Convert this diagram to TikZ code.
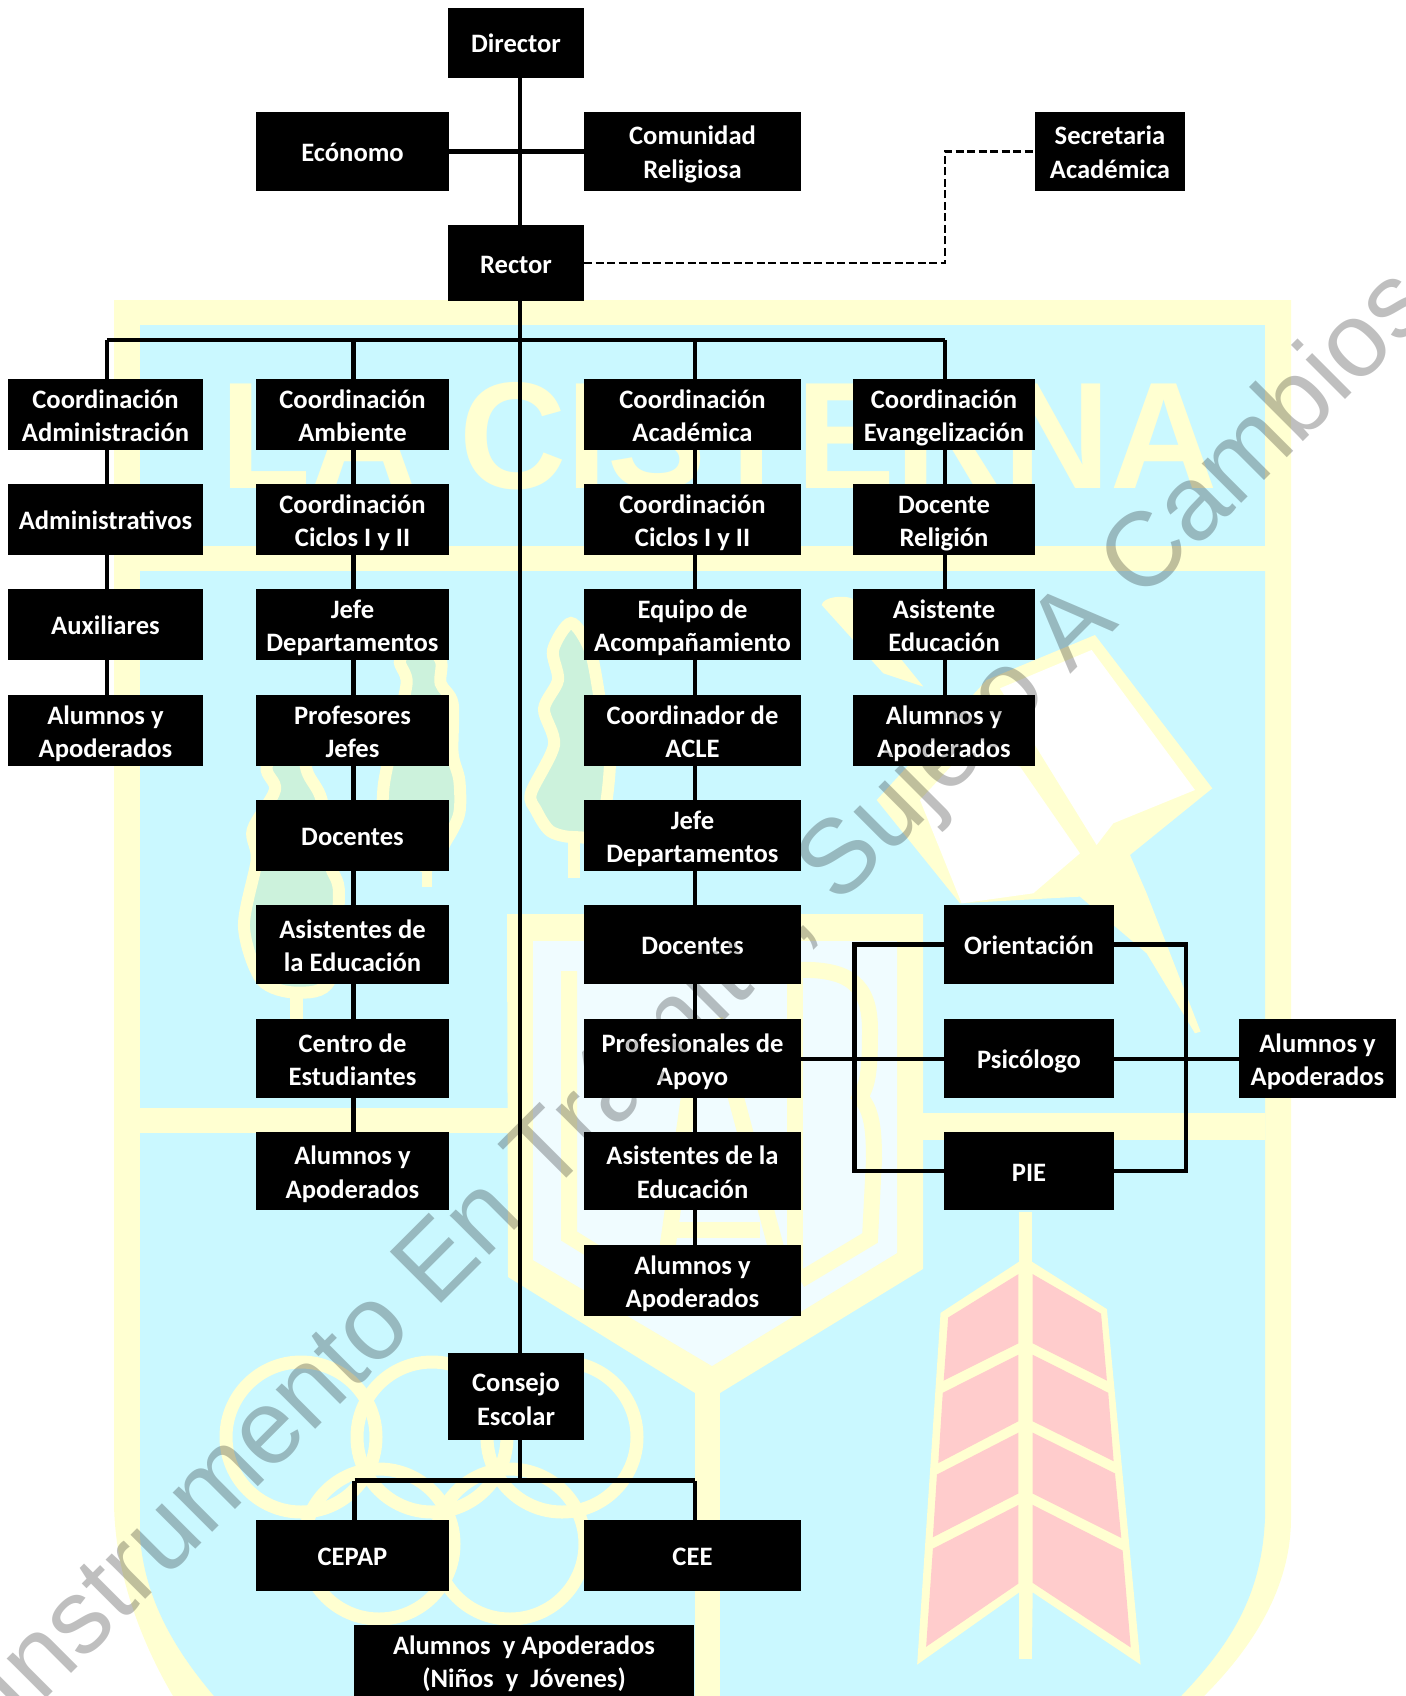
\documentclass[tikz,border=0pt]{standalone}
\usepackage{fontspec}
\setmainfont{Carlito}
\newfontfamily\wmfont{Liberation Sans}
\usetikzlibrary{calc}
\definecolor{shieldY}{HTML}{FFFFD1}
\definecolor{shieldC}{HTML}{CAF8FF}
\definecolor{shieldP}{HTML}{F0FCFF}
\definecolor{featherP}{HTML}{FFCCCC}
\definecolor{treeG}{HTML}{CCF2DC}
\newcommand{\topstrut}{\rule{0pt}{27pt}}
\newcommand{\botstrut}{\rule[-7pt]{0pt}{7pt}}
\newcommand{\dbl}{\rule{0pt}{27.5pt}}
\newcommand{\dblx}{\rule{0pt}{30.5pt}}
\tikzset{
  orgbox/.style={fill=black,text=white,inner sep=0pt,outer sep=0pt,align=center,
    font=\fontsize{26.6}{33.5}\selectfont\bfseries,
    execute at begin node=\topstrut,execute at end node=\botstrut},
  colA/.style={orgbox,minimum width=195pt},
  colB/.style={orgbox,minimum width=193pt},
  colC/.style={orgbox,minimum width=217pt},
  colD/.style={orgbox,minimum width=182pt},
  colM/.style={orgbox,minimum width=136pt},
  colO/.style={orgbox,minimum width=170pt},
  hA/.style={minimum height=71pt},
  hB/.style={minimum height=79pt},
  link/.style={draw=black,line width=4.6pt},
  thinlink/.style={draw=black,line width=4pt},
  dashlink/.style={draw=black,line width=2.6pt,dash pattern=on 8pt off 3.5pt},
  tree/.style={draw=shieldY,fill=treeG,line width=12pt},
  ring/.style={draw=shieldY,line width=13pt},
  feather/.style={fill=featherP},
  letterstroke/.style={draw=shieldY,line width=16pt}
}
\begin{document}
\begin{tikzpicture}[x=1pt,y=-1pt]
\useasboundingbox (0,0) rectangle (1405,1696);
% ---------- shield ----------
\fill[shieldY] (114,300) -- (1291,300) -- (1291,1518) .. controls (1291,1590) and (1250,1650) .. (1204,1696) -- (173,1696) .. controls (140,1640) and (114,1570) .. (114,1500) -- cycle;
\fill[shieldC] (140,325) rectangle (1265,546);
\fill[shieldC] (140,571) -- (1265,571) -- (1265,1518) .. controls (1262,1590) and (1235,1640) .. (1181,1696) -- (214,1696) .. controls (175,1650) and (145,1600) .. (140,1537) -- cycle;
\fill[shieldY] (140,1108) rectangle (510,1133);
\fill[shieldY] (920,1113) rectangle (1265,1140);
% letters
\node[inner sep=0pt,anchor=base west,xscale=0.976,transform shape,text=shieldY,font=\wmfont\fontsize{152}{152}\selectfont\bfseries] (lacisterna) at (220,488) {LA CISTERNA};
% trees
\draw[tree] plot[smooth cycle] coordinates {(571,623)(553,650)(558,680)(544,709)(554,745)(531,793)(536,810)(550,831)(573,837)(600,830)(610,760)(600,700)(590,650)};
\fill[shieldY] (568,840) rectangle (580,878);
\begin{scope}[shift={(100,640)},xscale=0.3333,yscale=0.3333]
  \draw[tree] plot[smooth cycle] coordinates {(900,60)(920,130)(880,300)(850,450)(860,600)(980,680)(1040,600)(1078,520)(1078,420)(1058,340)(1058,190)(1022,130)(1022,60)(960,0)};
  \fill[shieldY] (965,670) rectangle (995,740);
  \draw[tree] plot[smooth cycle] coordinates {(560,250)(500,380)(525,450)(458,570)(470,660)(432,860)(485,1020)(590,1058)(690,1020)(717,760)(690,670)(665,480)(620,390)(600,250)};
  \fill[shieldY] (570,1050) rectangle (610,1137);
\end{scope}
% book
\begin{scope}[shift={(780,560)},xscale=0.3333,yscale=0.3333]
  \fill[shieldY] (125,135) .. controls (130,110) and (190,105) .. (215,115) -- (430,380) -- (310,340) -- cycle;
  \fill[shieldY] (290,720) -- (620,360) -- (945,225) -- (1297,685) -- (1050,885) -- (1100,1000) -- (1262,1415) -- (1245,1420) -- (1100,1180) -- (900,1010) -- (540,1030) -- cycle;
  \fill[white] (660,385) -- (935,270) -- (1245,690) -- (1000,790) -- (950,855) -- cycle;
  \fill[white] (420,720) -- (540,590) -- (720,620) -- (900,880) -- (760,1000) -- (545,1030) -- cycle;
\end{scope}
% stem and inner shield
\fill[shieldY] (695,1380) rectangle (720,1696);
\fill[shieldY] (507,914) -- (923,914) -- (923,1269) -- (720,1393) -- (695,1393) -- (508,1277) -- cycle;
\fill[shieldP] (533,941) -- (897,941) -- (897,1253) -- (712,1366) -- (533,1260) -- cycle;
\draw[letterstroke] (569,971) -- (569,1236) -- (640,1280);
\draw[letterstroke] (700,1019) -- (660,1300);
\draw[letterstroke] (715,1019) -- (790,1300);
\draw[letterstroke] (663,1230) -- (760,1230);
\draw[letterstroke] (795,970) -- (795,1278);
\draw[letterstroke] (795,970) .. controls (850,968) and (870,985) .. (870,1030) .. controls (870,1070) and (868,1085) .. (860,1097) .. controls (872,1110) and (874,1130) .. (874,1160) -- (870,1238) -- (800,1280);
% rings
\draw[ring] (301,1437) circle (75);
\draw[ring] (432,1437) circle (75);
\draw[ring] (562,1437) circle (75);
\draw[ring] (379,1544) circle (75);
\draw[ring] (510,1544) circle (75);
% arrow
\begin{scope}[shift={(700,1100)},xscale=0.4496,yscale=0.3802]
  \fill[shieldY] (710,295) -- (738,295) -- (738,425) -- (905,550) -- (980,1485) -- (740,1295) -- (738,1470) -- (710,1470) -- (710,1295) -- (483,1485) -- (535,560) -- (710,425) -- cycle;
  \fill[feather] (708,458) -- (552,572) -- (542,738) -- (708,640) -- cycle;
  \fill[feather] (708,670) -- (540,770) -- (530,955) -- (708,845) -- cycle;
  \fill[feather] (708,875) -- (527,985) -- (518,1150) -- (708,1035) -- cycle;
  \fill[feather] (708,1065) -- (518,1180) -- (503,1438) -- (708,1272) -- cycle;
  \fill[feather] (740,458) -- (892,562) -- (905,738) -- (740,640) -- cycle;
  \fill[feather] (740,670) -- (908,770) -- (920,950) -- (740,845) -- cycle;
  \fill[feather] (740,875) -- (923,982) -- (937,1152) -- (740,1035) -- cycle;
  \fill[feather] (740,1065) -- (940,1185) -- (958,1440) -- (740,1270) -- cycle;
\end{scope}
% ---------- nodes ----------
\node[colM,minimum height=70pt] (director) at (516,43) {Director};
\node[colB,minimum height=79pt] (economo) at (352.5,151.5) {Ecónomo};
\node[colC,minimum height=79pt] (comunidad) at (692.5,151.5) {\dbl Comunidad\\Religiosa};
\node[orgbox,minimum width=150pt,minimum height=79pt] (secretaria) at (1110,151.5) {\dbl Secretaria\\Académica};
\node[colM,minimum height=76pt] (rector) at (516,263) {Rector};
% column A
\node[colA,hA] (a1) at (105.5,414.5) {\dbl Coordinación\\Administración};
\node[colA,hA] (a2) at (105.5,519.5) {Administrativos};
\node[colA,hA] (a3) at (105.5,624.5) {Auxiliares};
\node[colA,hA] (a4) at (105.5,730.5) {\dbl Alumnos y\\Apoderados};
% column B
\node[colB,hA] (b1) at (352.5,414.5) {\dbl Coordinación\\Ambiente};
\node[colB,hA] (b2) at (352.5,519.5) {\dbl Coordinación\\Ciclos I y II};
\node[colB,hA] (b3) at (352.5,624.5) {\dbl Jefe\\Departamentos};
\node[colB,hA] (b4) at (352.5,730.5) {\dbl Profesores\\Jefes};
\node[colB,hA] (b5) at (352.5,835.5) {Docentes};
\node[colB,hB] (b6) at (352.5,944.5) {\dbl Asistentes de\\la Educación};
\node[colB,hB] (b7) at (352.5,1058.5) {\dbl Centro de\\Estudiantes};
\node[colB,minimum height=78pt] (b8) at (352.5,1171) {\dbl Alumnos y\\Apoderados};
% column C
\node[colC,hA] (c1) at (692.5,414.5) {\dbl Coordinación\\Académica};
\node[colC,hA] (c2) at (692.5,519.5) {\dbl Coordinación\\Ciclos I y II};
\node[colC,hA] (c3) at (692.5,624.5) {\dbl Equipo de\\Acompañamiento};
\node[colC,hA] (c4) at (692.5,730.5) {\dbl Coordinador de\\ACLE};
\node[colC,hA] (c5) at (692.5,835.5) {\dbl Jefe\\Departamentos};
\node[colC,hB] (c6) at (692.5,944.5) {Docentes};
\node[colC,hB] (c7) at (692.5,1058.5) {\dbl Profesionales de\\Apoyo};
\node[colC,minimum height=78pt] (c8) at (692.5,1171) {\dbl Asistentes de la\\Educación};
\node[colC,hA] (c9) at (692.5,1280.5) {\dbl Alumnos y\\Apoderados};
% column D
\node[colD,hA] (d1) at (944,414.5) {\dbl Coordinación\\Evangelización};
\node[colD,hA] (d2) at (944,519.5) {\dbl Docente\\Religión};
\node[colD,hA] (d3) at (944,624.5) {\dbl Asistente\\Educación};
\node[colD,hA] (d4) at (944,730.5) {\dbl Alumnos y\\Apoderados};
% support group
\node[colO,hB] (orienta) at (1029,944.5) {Orientación};
\node[colO,hB] (psico) at (1029,1058.5) {Psicólogo};
\node[colO,minimum height=78pt] (pie) at (1029,1171) {PIE};
\node[orgbox,minimum width=157pt,hB] (apoderadosR) at (1317.5,1058.5) {\dbl Alumnos y\\Apoderados};
% bottom
\node[colM,minimum height=87pt] (consejo) at (516,1396.5) {\dblx Consejo\\Escolar};
\node[colB,hA] (cepap) at (352.5,1555) {CEPAP};
\node[colC,hA] (cee) at (692.5,1555) {CEE};
\node[orgbox,minimum width=340pt,minimum height=71pt] (familias) at (524,1660.5) {\dbl Alumnos\ \ y Apoderados\\(Niños\ \ y\ \ Jóvenes)};
% ---------- connectors ----------
\coordinate (axis) at (520,340);
\coordinate (barA) at (107,340);
\coordinate (barB) at (353.5,340);
\coordinate (barC) at (695,340);
\coordinate (barD) at (945,340);
\coordinate (loopL) at (854.5,1058.5);
\coordinate (loopR) at (1186,1058.5);
\coordinate (lowbar) at (520,1480.5);
\coordinate (lowL) at (354.5,1480.5);
\coordinate (lowR) at (695,1480.5);
\coordinate (dashbend) at (945,263);
\draw[link] (director.south -| axis) -- (rector.north -| axis);
\draw[link] (rector.south -| axis) -- (consejo.north -| axis);
\draw[link] (economo.east) -- (comunidad.west);
\draw[dashlink] (rector.east) -- (dashbend) |- (secretaria.west);
\draw[link] (barA) -- (barD);
\draw[link] (barA) -- (a1.north -| barA);
\draw[link] (barB) -- (b1.north -| barB);
\draw[link] (barC) -- (c1.north -| barC);
\draw[link] (barD) -- (d1.north -| barD);
\foreach \p/\q in {a1/a2,a2/a3,a3/a4}
  \draw[link] (\p.south -| barA) -- (\q.north -| barA);
\foreach \p/\q in {b1/b2,b2/b3,b3/b4,b4/b5,b5/b6,b6/b7,b7/b8}
  \draw[link] (\p.south -| barB) -- (\q.north -| barB);
\foreach \p/\q in {c1/c2,c2/c3,c3/c4,c4/c5,c5/c6,c6/c7,c7/c8,c8/c9}
  \draw[link] (\p.south -| barC) -- (\q.north -| barC);
\foreach \p/\q in {d1/d2,d2/d3,d3/d4}
  \draw[link] (\p.south -| barD) -- (\q.north -| barD);
\draw[thinlink] (c7.east) -- (psico.west);
\draw[thinlink] (psico.east) -- (apoderadosR.west);
\draw[link] (orienta.west) -| (loopL) |- (pie.west);
\draw[link] (orienta.east) -| (loopR) |- (pie.east);
\draw[link] (consejo.south -| lowbar) -- (lowbar);
\draw[link] (lowL) -- (lowR);
\draw[link] (lowL) -- (cepap.north -| lowL);
\draw[link] (lowR) -- (cee.north -| lowR);
% ---------- watermark ----------
\node[inner sep=0pt,anchor=base east,rotate=45,text=black,text opacity=0.25,font=\wmfont\fontsize{105.5}{105.5}\selectfont] (watermark) at (1436,309) {Instrumento En Trámite, Sujeto A Cambios};
\end{tikzpicture}
\end{document}
